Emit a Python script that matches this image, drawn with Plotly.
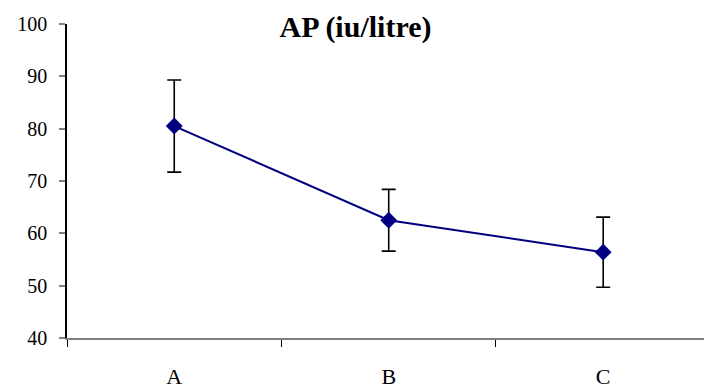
import plotly.graph_objects as go

categories = ["A", "B", "C"]
values = [80.5, 62.5, 56.4]
errors = [8.8, 5.9, 6.7]
y_ticks = [40, 50, 60, 70, 80, 90, 100]
title_text = "<b>AP (iu/litre)</b>"

FONT = "Liberation Serif"

fig = go.Figure()
fig.add_trace(go.Scatter(
    x=categories, y=values,
    mode="lines+markers",
    line=dict(color="#000080", width=2),
    marker=dict(symbol="diamond", size=13, color="#000080"),
    error_y=dict(type="data", array=errors, visible=True,
                 color="black", thickness=1.6, width=7),
    showlegend=False,
))

fig.update_layout(
    width=704, height=392,
    margin=dict(l=67, r=0, t=24, b=54),
    paper_bgcolor="white", plot_bgcolor="white",
    font=dict(family=FONT, color="black"),
    title=dict(text=title_text, x=0.505, xanchor="center",
               y=1 - 26 / 392, yanchor="middle",
               font=dict(family=FONT, size=30, color="black")),
    xaxis=dict(
        type="category", range=[-0.5, 2.47],
        showline=True, linecolor="#808080", linewidth=1.5,
        ticks="outside", tickson="boundaries", ticklen=7, tickcolor="black", tickwidth=1,
        showgrid=False, zeroline=False,
        tickfont=dict(family=FONT, size=22, color="black"),
        ticklabelstandoff=18,
    ),
    yaxis=dict(
        range=[40, 100], tickvals=y_ticks,
        showline=True, linecolor="black", linewidth=1.5,
        ticks="outside", ticklen=6, tickcolor="#808080", tickwidth=1.5,
        showgrid=False, zeroline=False,
        tickfont=dict(family=FONT, size=20, color="black"),
        ticklabelstandoff=8,
    ),
)

fig.write_html("out.html")
